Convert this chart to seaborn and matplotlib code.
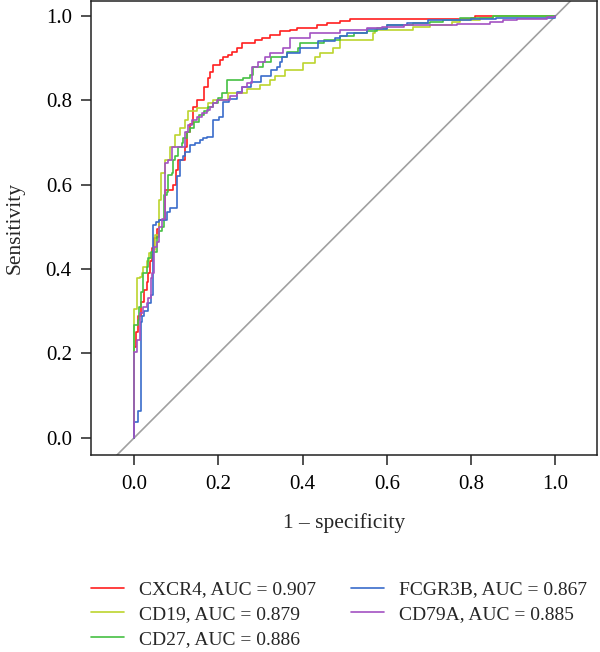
"""
ROC curves for five marker genes (CXCR4, CD19, CD27, FCGR3B, CD79A)
"""
import pandas as pd
import numpy as np
import matplotlib
matplotlib.use('Agg')
import matplotlib.pyplot as plt
import seaborn as sns

# curve points: (1 - specificity, sensitivity)
cxcr4_fpr = [0.000, 0.000, 0.005, 0.010, 0.017, 0.024, 0.030, 0.033, 0.038, 0.043,
             0.048, 0.054, 0.058, 0.074, 0.093, 0.100, 0.105, 0.120, 0.125, 0.133,
             0.140, 0.150, 0.165, 0.175, 0.180, 0.188, 0.205, 0.212, 0.224, 0.233,
             0.245, 0.257, 0.287, 0.303, 0.323, 0.346, 0.370, 0.387, 0.434, 0.458,
             0.489, 0.513, 0.800, 0.810, 1.000]
cxcr4_tpr = [0.000, 0.215, 0.250, 0.290, 0.323, 0.350, 0.370, 0.390, 0.420, 0.450,
             0.475, 0.495, 0.516, 0.588, 0.600, 0.635, 0.659, 0.690, 0.725, 0.745,
             0.785, 0.800, 0.832, 0.853, 0.868, 0.884, 0.896, 0.903, 0.908, 0.915,
             0.925, 0.937, 0.944, 0.948, 0.955, 0.965, 0.967, 0.972, 0.979, 0.984,
             0.989, 0.993, 0.995, 1.000, 1.000]

cd19_fpr = [0.000, 0.000, 0.006, 0.014, 0.018, 0.022, 0.030, 0.036, 0.045, 0.050,
            0.058, 0.064, 0.073, 0.085, 0.097, 0.109, 0.121, 0.129, 0.149, 0.176,
            0.188, 0.224, 0.268, 0.299, 0.323, 0.335, 0.358, 0.402, 0.430, 0.442,
            0.473, 0.489, 0.568, 0.572, 0.663, 0.702, 0.754, 0.774, 0.821, 0.852,
            1.000]
cd19_tpr = [0.000, 0.305, 0.378, 0.382, 0.390, 0.406, 0.420, 0.438, 0.445, 0.480,
            0.564, 0.628, 0.659, 0.690, 0.718, 0.735, 0.754, 0.774, 0.782, 0.793,
            0.801, 0.817, 0.827, 0.837, 0.848, 0.857, 0.873, 0.888, 0.904, 0.912,
            0.924, 0.944, 0.960, 0.967, 0.975, 0.979, 0.985, 0.990, 0.995, 1.000,
            1.000]

cd27_fpr = [0.000, 0.000, 0.008, 0.012, 0.016, 0.020, 0.022, 0.030, 0.034, 0.040,
            0.054, 0.058, 0.066, 0.070, 0.077, 0.081, 0.089, 0.093, 0.097, 0.105,
            0.113, 0.117, 0.125, 0.133, 0.141, 0.153, 0.165, 0.176, 0.188, 0.200,
            0.208, 0.220, 0.259, 0.275, 0.283, 0.307, 0.326, 0.362, 0.390, 0.394,
            0.450, 0.489, 0.521, 0.552, 0.576, 0.600, 0.663, 0.703, 0.734, 0.774,
            0.852, 1.000]
cd27_tpr = [0.000, 0.267, 0.279, 0.311, 0.346, 0.374, 0.390, 0.406, 0.426, 0.440,
            0.477, 0.490, 0.500, 0.576, 0.582, 0.623, 0.628, 0.659, 0.668, 0.690,
            0.700, 0.710, 0.726, 0.734, 0.750, 0.766, 0.775, 0.785, 0.795, 0.805,
            0.817, 0.849, 0.853, 0.861, 0.880, 0.892, 0.904, 0.916, 0.924, 0.936,
            0.944, 0.954, 0.960, 0.965, 0.971, 0.979, 0.983, 0.987, 0.991, 0.995,
            1.000, 1.000]

fcgr3b_fpr = [0.000, 0.000, 0.010, 0.016, 0.019, 0.024, 0.032, 0.040, 0.044, 0.052,
              0.058, 0.077, 0.085, 0.101, 0.110, 0.116, 0.121, 0.133, 0.145, 0.157,
              0.163, 0.172, 0.188, 0.201, 0.210, 0.225, 0.244, 0.256, 0.278, 0.302,
              0.326, 0.339, 0.347, 0.351, 0.362, 0.394, 0.437, 0.477, 0.489, 0.505,
              0.552, 0.600, 0.647, 0.698, 0.800, 0.860, 1.000]
fcgr3b_tpr = [0.000, 0.038, 0.063, 0.275, 0.290, 0.300, 0.320, 0.338, 0.505, 0.512,
              0.516, 0.536, 0.545, 0.620, 0.659, 0.668, 0.679, 0.695, 0.700, 0.706,
              0.711, 0.714, 0.754, 0.760, 0.797, 0.803, 0.821, 0.833, 0.845, 0.857,
              0.873, 0.880, 0.892, 0.904, 0.912, 0.924, 0.940, 0.948, 0.954, 0.960,
              0.970, 0.978, 0.983, 0.990, 0.993, 0.996, 1.000]

cd79a_fpr = [0.000, 0.000, 0.006, 0.014, 0.022, 0.030, 0.034, 0.040, 0.042, 0.046,
             0.054, 0.058, 0.066, 0.074, 0.081, 0.089, 0.121, 0.121, 0.129, 0.137,
             0.149, 0.161, 0.172, 0.180, 0.188, 0.196, 0.228, 0.244, 0.256, 0.267,
             0.279, 0.295, 0.311, 0.323, 0.354, 0.370, 0.418, 0.489, 0.552, 0.588,
             0.640, 0.766, 0.845, 0.876, 0.908, 0.980, 1.000]
cd79a_tpr = [0.000, 0.204, 0.232, 0.295, 0.311, 0.319, 0.331, 0.379, 0.390, 0.453,
             0.465, 0.500, 0.520, 0.651, 0.659, 0.690, 0.702, 0.726, 0.742, 0.754,
             0.762, 0.770, 0.778, 0.785, 0.795, 0.801, 0.810, 0.817, 0.833, 0.841,
             0.880, 0.892, 0.904, 0.912, 0.924, 0.948, 0.960, 0.967, 0.973, 0.975,
             0.978, 0.982, 0.987, 0.990, 0.993, 0.998, 1.000]

genes = ['CXCR4', 'CD19', 'CD27', 'FCGR3B', 'CD79A']
aucs = ['0.907', '0.879', '0.886', '0.867', '0.885']
colors = ['#FF1F1F', '#BCD42E', '#45C043', '#3A6CCB', '#A352C2']

curves = [(cxcr4_fpr, cxcr4_tpr), (cd19_fpr, cd19_tpr), (cd27_fpr, cd27_tpr),
          (fcgr3b_fpr, fcgr3b_tpr), (cd79a_fpr, cd79a_tpr)]

# long table for seaborn
frames = []
for gene, auc, (fpr, tpr) in zip(genes, aucs, curves):
    frames.append(pd.DataFrame({'fpr': fpr, 'tpr': tpr,
                                'label': f'{gene}, AUC = {auc}'}))
df = pd.concat(frames, ignore_index=True)
labels = [f'{g}, AUC = {a}' for g, a in zip(genes, aucs)]

sns.set_style('ticks')
plt.rcParams['font.family'] = ['Liberation Serif', 'DejaVu Serif']

fig = plt.figure(figsize=(6, 6.52), dpi=100)
ax = fig.add_axes([0.152, 0.302, 0.843, 0.6965])

ax.axline((0, 0), (1, 1), color='#A0A0A0', lw=1.2, zorder=1)

sns.lineplot(data=df, x='fpr', y='tpr', hue='label', hue_order=labels,
             palette=colors, estimator=None, sort=False,
             drawstyle='steps-post', lw=1.2, legend=False, ax=ax, zorder=2)

ax.set_xlim(-0.102, 1.099)
ax.set_ylim(-0.041, 1.036)
ax.set_xticks([0.0, 0.2, 0.4, 0.6, 0.8, 1.0])
ax.set_yticks([0.0, 0.2, 0.4, 0.6, 0.8, 1.0])
ax.set_xticklabels(['0.0', '0.2', '0.4', '0.6', '0.8', '1.0'])
ax.set_yticklabels(['0.0', '0.2', '0.4', '0.6', '0.8', '1.0'])
ax.tick_params(direction='out', length=7, width=1.1, colors='#222222',
               labelsize=15, labelcolor='black')
ax.tick_params(axis='x', pad=7)
ax.tick_params(axis='y', pad=7)
for s in ax.spines.values():
    s.set_visible(True)
    s.set_color('#222222')
    s.set_linewidth(1.1)

ax.set_xlabel('1 \u2013 specificity', fontsize=15.5, labelpad=14)
ax.set_ylabel('Sensitivity', fontsize=15.5, labelpad=15)

handles = ax.get_lines()[1:]
fig.legend(handles, labels, loc='upper left', bbox_to_anchor=(0.135, 0.124),
           ncol=2, frameon=False, fontsize=14, handlelength=1.7,
           handletextpad=0.77, columnspacing=1.8, labelspacing=0.37,
           borderpad=0)

plt.savefig('out.png', dpi=100)
